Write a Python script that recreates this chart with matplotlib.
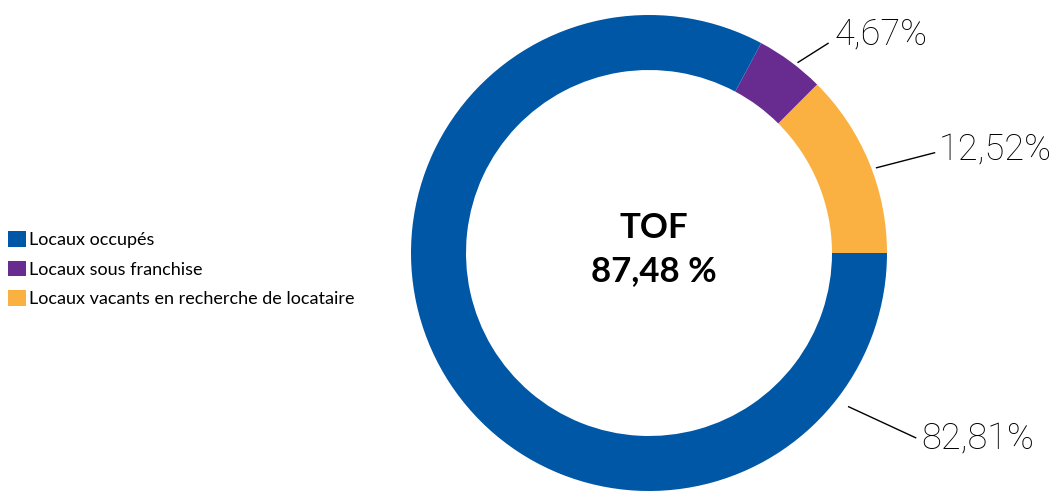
import numpy as np
import matplotlib.pyplot as plt
from matplotlib.patches import Patch

# donnees du graphique
categories = ["Locaux occupés", "Locaux sous franchise", "Locaux vacants en recherche de locataire"]
valeurs = [82.81, 4.67, 12.52]
etiquettes = ["82,81%", "4,67%", "12,52%"]
couleurs = ["#0057A5", "#682C91", "#FBB042"]
centre_titre = "TOF"
centre_valeur = "87,48 %"

plt.rcParams['font.family'] = ['Lato', 'DejaVu Sans']

fig = plt.figure(figsize=(10.53, 4.91), dpi=100)
ax = fig.add_axes([0, 0, 1, 1])

W, H = 1053, 491
cx, cy = 649, H - 253
R = 238
largeur = 55

# ordre du tracé : jaune, violet puis bleu, sens anti-horaire depuis l'est
ordre = [2, 1, 0]
wedges, _ = ax.pie([valeurs[i] for i in ordre], colors=[couleurs[i] for i in ordre],
                   startangle=0, counterclock=True, center=(cx, cy), radius=R,
                   wedgeprops=dict(width=largeur, linewidth=0))

# angles des traits de rappel (degrés), écart au bord et décalage du trait (pixels)
angles = {2: None, 1: None, 0: -37.6}
ecart = {0: 14, 1: 4, 2: 5}
decal = {0: (67, -31), 1: (30, 19), 2: (58, 15)}
decal_txt = {0: (6, -2), 1: (6, 9), 2: (4, 2)}
for w, i in zip(wedges, ordre):
    a = angles[i]
    if a is None:
        a = (w.theta1 + w.theta2) / 2 + (-1.5 if i == 1 else -2)
    r = R + ecart[i]
    x0 = cx + r * np.cos(np.radians(a))
    y0 = cy + r * np.sin(np.radians(a))
    x1, y1 = x0 + decal[i][0], y0 + decal[i][1]
    ax.plot([x0, x1], [y0, y1], color="black", lw=1)
    ax.text(x1 + decal_txt[i][0], y1 + decal_txt[i][1], etiquettes[i],
            ha="left", va="center", fontsize=26, family=["Roboto", "DejaVu Sans"],
            fontweight="light", color="black")

ax.text(cx + 5, cy + 25, centre_titre, ha="center", va="center", fontsize=25, fontweight="bold")
ax.text(cx + 5, cy - 18, centre_valeur, ha="center", va="center", fontsize=25, fontweight="bold")

ax.set_xlim(0, W)
ax.set_ylim(0, H)
ax.set_aspect("equal")
ax.axis("off")

poignees = [Patch(facecolor=c, edgecolor="none") for c in couleurs]
fig.legend(poignees, categories, loc="center left", bbox_to_anchor=(0.008, 0.452),
           frameon=False, fontsize=13, handlelength=0.95, handleheight=0.95,
           handletextpad=0.2, labelspacing=0.7, borderaxespad=0, borderpad=0)

fig.savefig("out.png", dpi=100)
